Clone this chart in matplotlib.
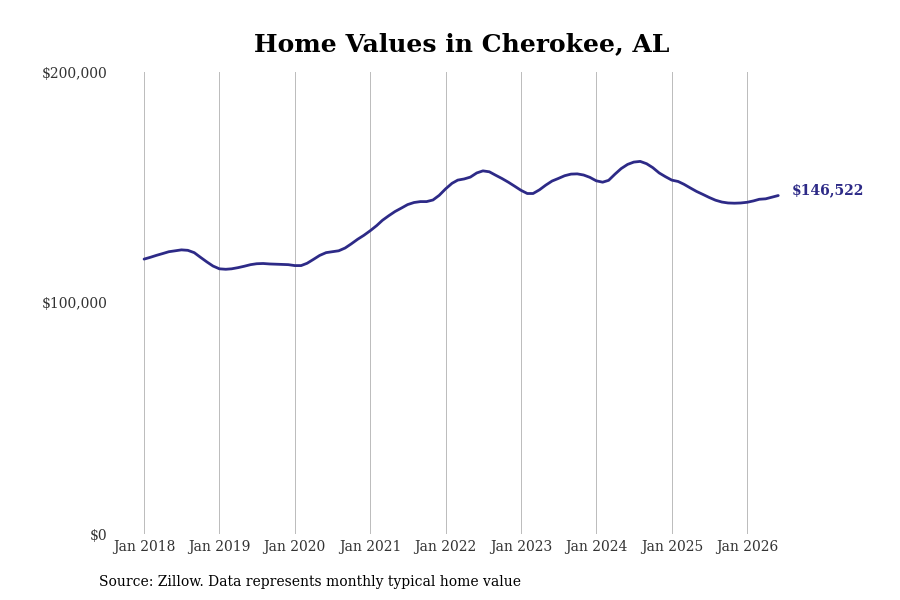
#!/usr/bin/env python3
"""Monthly typical home value for Cherokee, AL (Zillow)."""

import matplotlib
matplotlib.use("Agg")
import matplotlib.pyplot as plt
import numpy as np
import pandas as pd

TITLE = "Home Values in Cherokee, AL"
SOURCE = "Source: Zillow. Data represents monthly typical home value"
LINE_COLOR = "#2d2a87"

START_MONTH = "2018-01-01"
# thousands of dollars, one value per month from Jan 2018
HOME_VALUES_K = [
    119.0, 119.8, 120.6, 121.4, 122.2, 122.6, 123.0, 122.8, 121.8, 119.8, 117.8, 116.0,
    114.8, 114.6, 114.8, 115.3, 115.9, 116.6, 117.0, 117.1, 116.9, 116.8, 116.7, 116.6,
    116.2, 116.2, 117.2, 118.9, 120.6, 121.8, 122.2, 122.6, 123.8, 125.6, 127.6, 129.3,
    131.3, 133.5, 135.8, 137.8, 139.6, 141.1, 142.6, 143.5, 143.9, 143.9, 144.6, 146.6,
    149.4, 151.8, 153.2, 153.7, 154.5, 156.3, 157.2, 156.8, 155.3, 153.9, 152.3, 150.6,
    148.8, 147.4, 147.4, 149.0, 151.0, 152.8, 153.9, 155.1, 155.8, 155.9, 155.4, 154.4,
    152.9, 152.3, 153.1, 155.8, 158.2, 160.0, 161.0, 161.3, 160.3, 158.6, 156.3, 154.7,
    153.2, 152.6, 151.4, 149.8, 148.3, 147.0, 145.7, 144.5, 143.7, 143.3, 143.2, 143.3,
    143.6, 144.2, 144.9, 145.1, 145.8, 146.522,
]
Y_TICKS = [0, 100000, 200000]
Y_TICK_LABELS = ["$0", "$100,000", "$200,000"]
X_TICK_YEARS = list(range(2018, 2027))


def main() -> None:
    plt.rcParams["font.family"] = ["DejaVu Serif"]
    dates = pd.date_range(START_MONTH, periods=len(HOME_VALUES_K), freq="MS")
    values = np.array(HOME_VALUES_K) * 1000

    fig = plt.figure(figsize=(9, 6), dpi=100)
    ax = fig.add_axes([0.125, 0.11, 0.745, 0.77])

    ax.plot(dates, values, color=LINE_COLOR, linewidth=2.0, solid_capstyle="round")

    ax.set_ylim(0, 200000)
    ax.set_yticks(Y_TICKS)
    ax.set_yticklabels(Y_TICK_LABELS)
    ticks = [pd.Timestamp(f"{y}-01-01") for y in X_TICK_YEARS]
    ax.set_xticks(ticks)
    ax.set_xticklabels([f"Jan {y}" for y in X_TICK_YEARS])
    start = pd.Timestamp(START_MONTH)
    ax.set_xlim(start - pd.Timedelta(days=153), start + pd.Timedelta(days=3096))

    for spine in ax.spines.values():
        spine.set_visible(False)
    ax.grid(axis="x", color="#bbbbbb", linewidth=0.7)
    ax.grid(axis="y", visible=False)
    ax.tick_params(axis="y", length=0, pad=3.5, labelsize=10, colors="#333333")
    ax.tick_params(axis="x", length=0, pad=4, labelsize=10, colors="#333333")
    ax.set_axisbelow(True)

    ax.annotate(
        f"${values[-1]:,.0f}",
        xy=(dates[-1], values[-1]),
        xytext=(10, 3.5),
        textcoords="offset points",
        va="center",
        ha="left",
        fontsize=10,
        fontweight="bold",
        color=LINE_COLOR,
        annotation_clip=False,
    )

    fig.text(0.513, 0.926, TITLE, ha="center", va="center", fontsize=18, fontweight="bold")
    fig.text(0.11, 0.03, SOURCE, ha="left", va="center", fontsize=10)

    fig.savefig("out.png", dpi=100, facecolor="white")
    plt.close(fig)


if __name__ == "__main__":
    main()
